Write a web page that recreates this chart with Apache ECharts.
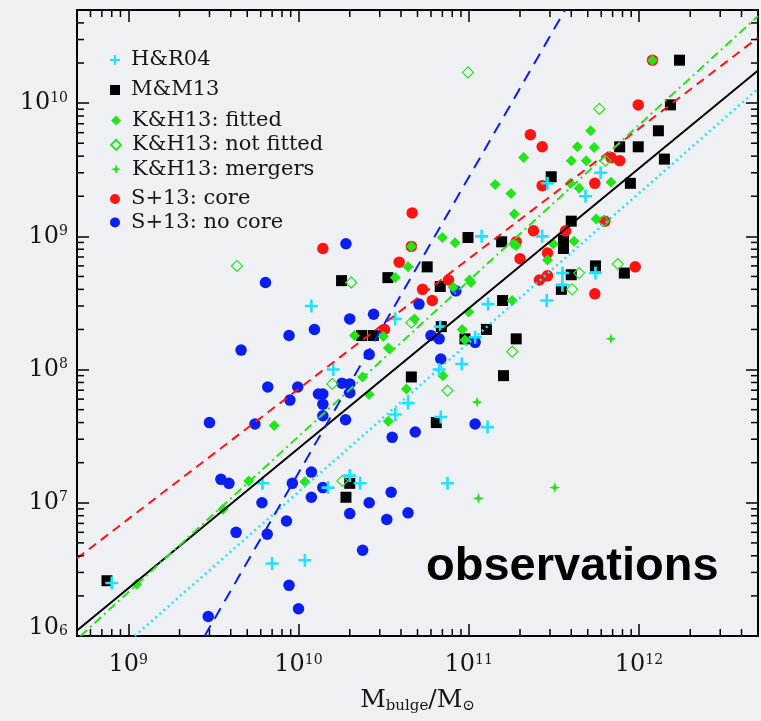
<!DOCTYPE html>
<html><head><meta charset="utf-8">
<script src="https://cdn.jsdelivr.net/npm/echarts@6/dist/echarts.min.js"></script>
<style>html,body{margin:0;padding:0;background:#eff0f4;}#c{width:761px;height:721px;}</style>
</head><body><div id="c"></div><script>
// ---------------- data (M_bulge [Msun], M_BH [Msun]) ----------------
const hr04 = [[2.9e11,2.5e9],[5.95e11,3.0e9],[4.85e11,2.0e9],[1.19e11,1.0e9],[2.7e11,1.0e9],[3.7e10,2.4e8],[6.8e10,2.1e8],[1.3e11,3.1e8],[3.55e11,5.3e8],[3.55e11,4.3e8],[2.87e11,3.3e8],[5.55e11,5.3e8],[1.09e11,1.75e8],[9.1e10,1.1e8],[6.7e10,1.0e8],[4.4e10,5.6e7],[3.7e10,4.6e7],[6.85e10,4.4e7],[1.29e11,3.7e7],[1.19e10,3.0e8],[1.6e10,1.0e8],[2.0e10,1.6e7],[2.3e10,1.4e7],[1.49e10,1.3e7],[7.5e10,1.4e7],[6.15e9,1.4e7],[7.0e9,3.5e6],[1.09e10,3.7e6],[8.0e8,2.5e6]];
const mm13 = [[1.73e12,2.1e10],[1.53e12,9.7e9],[1.3e12,6.2e9],[9.9e11,4.7e9],[7.7e11,4.7e9],[1.41e12,3.8e9],[8.9e11,2.5e9],[3.05e11,2.8e9],[4.0e11,1.3e9],[9.9e10,9.8e8],[1.56e11,9.1e8],[3.6e11,9.4e8],[3.6e11,8.1e8],[5.7e10,5.9e8],[3.35e10,4.9e8],[6.8e10,4.2e8],[1.58e11,3.3e8],[6.9e10,2.1e8],[1.27e11,2.0e8],[1.9e11,1.7e8],[9.5e10,1.7e8],[4.6e10,8.8e7],[1.6e11,9.0e7],[6.45e10,4.0e7],[5.55e11,6.0e8],[4.0e11,5.15e8],[3.5e11,4.0e8],[8.2e11,5.3e8],[1.79e10,4.65e8],[2.35e10,1.8e8],[2.75e10,1.8e8],[2.0e10,1.4e7],[1.9e10,1.1e7],[7.5e8,2.6e6]];
const khFitted = [[5.2e11,6.2e9],[4.35e11,4.7e9],[5.45e11,4.65e9],[2.1e11,3.9e9],[4.0e11,3.7e9],[4.9e11,3.7e9],[1.43e11,2.45e9],[1.77e11,2.1e9],[3.95e11,2.5e9],[4.45e11,2.3e9],[6.85e11,2.55e9],[1.85e11,1.47e9],[5.6e11,1.35e9],[7.0e10,9.8e8],[8.3e10,8.95e8],[4.6e10,8.4e8],[1.83e11,8.75e8],[1.9e11,8.55e8],[3.14e11,8.75e8],[4.15e11,9.2e8],[4.4e10,5.9e8],[3.7e10,4.9e8],[2.9e11,6.65e8],[1.01e11,4.7e8],[1.03e11,4.5e8],[8.1e10,4.15e8],[1.0e11,2.7e8],[9.15e10,2.0e8],[9.5e10,1.67e8],[1.8e11,3.3e8],[4.8e10,2.4e8],[3.37e10,1.45e8],[2.13e10,1.8e8],[3.15e10,1.77e8],[2.38e10,8.8e7],[7.05e10,9.0e7],[4.3e10,7.15e7],[2.6e10,6.5e7],[3.37e10,4.1e7],[7.2e9,3.8e7],[5.1e9,1.46e7],[1.09e10,1.44e7],[3.6e9,8.95e6],[1.12e9,2.45e6],[1.2e12,2.1e10]];
const khNotFitted = [[9.9e10,1.7e10],[5.85e11,9.05e9],[6.35e11,3.7e9],[6.2e11,1.3e9],[4.35e9,6.0e8],[2.04e10,4.5e8],[1.58e10,7.8e7],[4.6e10,2.25e8],[7.5e10,6.95e7],[1.81e10,1.46e7],[4.45e11,5.3e8],[4.05e11,4.0e8],[7.5e11,6.2e8],[1.8e11,1.36e8]];
const khMergers = [[6.85e11,1.7e8],[1.12e11,5.7e7],[1.14e11,1.08e7],[3.2e11,1.3e7]];
const s13Core = [[1.2e12,2.1e10],[9.9e11,9.7e9],[2.3e11,5.8e9],[2.7e11,4.7e9],[6.85e11,3.9e9],[7.7e11,3.7e9],[5.5e11,2.5e9],[2.7e11,2.4e9],[4.65e10,1.5e9],[2.4e11,1.1e9],[3.7e11,1.1e9],[6.3e11,1.3e9],[1.9e11,9.1e8],[4.6e10,8.4e8],[1.39e10,8.1e8],[3.9e10,6.4e8],[5.35e10,4.0e8],[6.1e10,3.3e8],[3.2e10,2.0e8],[7.6e10,4.7e8],[2.0e11,6.8e8],[2.9e11,7.5e8],[2.6e11,4.7e8],[2.9e11,5.05e8],[5.5e11,3.7e8],[9.5e11,5.9e8]];
const s13NoCore = [[1.9e10,8.8e8],[6.4e9,4.5e8],[2.0e10,2.4e8],[2.76e10,2.6e8],[1.24e10,2.0e8],[8.8e9,1.8e8],[4.6e9,1.4e8],[2.6e10,1.3e8],[6.6e9,7.4e7],[9.9e9,7.4e7],[8.9e9,5.9e7],[1.31e10,6.55e7],[1.39e10,6.55e7],[1.39e10,5.5e7],[1.8e10,7.9e7],[2.0e10,7.8e7],[2.0e10,6.7e7],[1.39e10,4.5e7],[1.89e10,4.2e7],[3.0e9,4.0e7],[5.55e9,3.9e7],[5.1e10,3.1e8],[6.0e10,1.8e8],[6.7e10,1.7e8],[6.85e10,1.2e8],[8.4e10,3.9e8],[1.09e11,1.6e8],[3.55e10,3.1e7],[4.85e10,3.4e7],[1.09e11,3.9e7],[1.19e10,1.7e7],[3.5e9,1.5e7],[3.9e9,1.4e7],[9.2e9,1.4e7],[1.39e10,1.3e7],[1.19e10,1.1e7],[3.5e10,1.2e7],[6.1e9,1.0e7],[2.6e10,1.0e7],[2.0e10,8.3e6],[3.3e10,7.5e6],[4.4e10,8.4e6],[8.5e9,7.3e6],[4.3e9,6.0e6],[6.55e9,5.8e6],[2.38e10,4.4e6],[8.8e9,2.4e6],[1.0e10,1.6e6],[2.95e9,1.4e6]];
// fit lines: end points
const fitAll = [[5e8,1.1e6],[5e12,1.76e10]];
const fitCore = [[5e8,3.83e6],[5e12,3.1e10]];
const fitKH = [[5.24e8,1e6],[5e12,4.5e10]];
const fitHR = [[1.09e9,1e6],[5e12,1.28e10]];
const fitNoCore = [[2.81e9,1e6],[3.68e11,5e10]];
// axes
const X_MIN = 5e8, X_MAX = 5e12, Y_MIN = 1e6, Y_MAX = 5e10;
const minorTicksX = [6e8,7e8,8e8,9e8,2e9,3e9,4e9,5e9,6e9,7e9,8e9,9e9,2e10,3e10,4e10,5e10,6e10,7e10,8e10,9e10,2e11,3e11,4e11,5e11,6e11,7e11,8e11,9e11,2e12,3e12,4e12];
const minorTicksY = [2e6,3e6,4e6,5e6,6e6,7e6,8e6,9e6,2e7,3e7,4e7,5e7,6e7,7e7,8e7,9e7,2e8,3e8,4e8,5e8,6e8,7e8,8e8,9e8,2e9,3e9,4e9,5e9,6e9,7e9,8e9,9e9,2e10,3e10,4e10];

// ---------------- style ----------------
const SERIF = '"DejaVu Serif", serif';
const TXT = '#151515';
const C = {cyan:'#1fe2ff', black:'#000000', green:'#25e41c', red:'#ff1414', blue:'#0a1ef2'};
const PLUS = 'path://M4,0H6V4H10V6H6V10H4V6H0V4H4Z';
const STAR = 'path://M5,0L6.3,3.7L10,5L6.3,6.3L5,10L3.7,6.3L0,5L3.7,3.7Z';
const MINOR_LEN = 7, MAJOR_LEN = 12;

function expOf(v){ const l = Math.log10(v); const e = Math.round(l); return Math.abs(l-e) < 1e-6 ? e : null; }
const richLab = {
  b:{fontFamily:SERIF,fontSize:24,lineHeight:24,color:TXT},
  s:{fontFamily:SERIF,fontSize:14,lineHeight:14,verticalAlign:'top',color:TXT},
  b6:{fontFamily:SERIF,fontSize:24,lineHeight:24,color:TXT,padding:[0,0,17,0]},
  s6:{fontFamily:SERIF,fontSize:14,lineHeight:14,verticalAlign:'top',color:TXT}
};
const axisLineStyle = {color:'#000',width:2};
const tickStyle = {color:'#000',width:1.5};

function scatter(name, data, symbol, size, itemStyle, z){
  return {type:'scatter', name, data, symbol, symbolSize:size, itemStyle:Object.assign({opacity:1}, itemStyle), z, emphasis:{disabled:true}, xAxisIndex:0, yAxisIndex:0};
}
function fitLine(data, color, type, width){
  return {type:'line', data, showSymbol:false, symbol:'none', silent:true, z:6, clip:true,
    lineStyle:{color, type, width}, emphasis:{disabled:true}, xAxisIndex:0, yAxisIndex:0};
}
function minorTick(isX){
  return function(params, api){
    const cs = params.coordSys;
    const p = api.coord([api.value(0), api.value(1)]);
    const st = {stroke:'#000', lineWidth:1.5};
    if (isX) {
      const b = cs.y + cs.height, t = cs.y;
      return {type:'group', children:[
        {type:'line', shape:{x1:p[0],y1:b,x2:p[0],y2:b-MINOR_LEN}, style:st},
        {type:'line', shape:{x1:p[0],y1:t,x2:p[0],y2:t+MINOR_LEN}, style:st}]};
    }
    const l = cs.x, r = cs.x + cs.width;
    return {type:'group', children:[
      {type:'line', shape:{x1:l,y1:p[1],x2:l+MINOR_LEN,y2:p[1]}, style:st},
      {type:'line', shape:{x1:r,y1:p[1],x2:r-MINOR_LEN,y2:p[1]}, style:st}]};
  };
}

const legendBase = {orient:'vertical', left:110, padding:0, itemWidth:10, itemHeight:10, itemGap:3.4,
  selectedMode:false, textStyle:{fontFamily:SERIF, fontSize:21, lineHeight:20, color:TXT, padding:[0,0,0,6]}};

const chart = echarts.init(document.getElementById('c'), null, {renderer:'canvas'});
chart.setOption({
  backgroundColor:'#eff0f4',
  animation:false,
  grid:{left:77, top:10, width:689, height:626},
  legend:[
    Object.assign({}, legendBase, {top:49.5, data:['H&R04']}),
    Object.assign({}, legendBase, {top:79.5, data:['M&M13']}),
    Object.assign({}, legendBase, {top:110, data:['K&H13: fitted','K&H13: not fitted','K&H13: mergers']}),
    Object.assign({}, legendBase, {top:188.5, itemGap:2.4, data:['S+13: core','S+13: no core']})
  ],
  xAxis:[
    {type:'log', logBase:10, min:X_MIN, max:X_MAX, position:'bottom',
     axisLine:{show:true, lineStyle:axisLineStyle}, splitLine:{show:false},
     axisTick:{show:true, inside:true, length:MAJOR_LEN, lineStyle:tickStyle},
     axisLabel:{margin:17, formatter:v=>{const e=expOf(v); return e===null?'':'{b|10}{s|'+e+'}';}, rich:richLab},
     name:'{m|M}{sub|bulge}{m|/M}{sub|\u2299}', nameLocation:'middle', nameGap:50,
     nameTextStyle:{rich:{m:{fontFamily:SERIF,fontSize:25,lineHeight:28,color:TXT}, sub:{fontFamily:SERIF,fontSize:15,lineHeight:15,verticalAlign:'bottom',color:TXT}}}},
    {type:'log', logBase:10, min:X_MIN, max:X_MAX, position:'top',
     axisLine:{show:true, lineStyle:axisLineStyle}, splitLine:{show:false},
     axisTick:{show:true, inside:true, length:MAJOR_LEN, lineStyle:tickStyle}, axisLabel:{show:false}}
  ],
  yAxis:[
    {type:'log', logBase:10, min:Y_MIN, max:Y_MAX, position:'left',
     axisLine:{show:true, lineStyle:axisLineStyle}, splitLine:{show:false},
     axisTick:{show:true, inside:true, length:MAJOR_LEN, lineStyle:tickStyle},
     axisLabel:{margin:9, formatter:v=>{const e=expOf(v); if(e===null) return ''; return e===6?'{b6|10}{s6|6}':'{b|10}{s|'+e+'}';}, rich:richLab}},
    {type:'log', logBase:10, min:Y_MIN, max:Y_MAX, position:'right',
     axisLine:{show:true, lineStyle:axisLineStyle}, splitLine:{show:false},
     axisTick:{show:true, inside:true, length:MAJOR_LEN, lineStyle:tickStyle}, axisLabel:{show:false}}
  ],
  graphic:[{type:'text', x:426, y:567, z:10,
    style:{text:'observations', font:'bold 47px "Liberation Sans", Arial, sans-serif', fill:'#000', align:'left', verticalAlign:'middle'}}],
  series:[
    scatter('M&M13', mm13, 'rect', 11, {color:C.black}, 3),
    scatter('S+13: no core', s13NoCore, 'circle', 11.5, {color:C.blue}, 3),
    scatter('S+13: core', s13Core, 'circle', 11.5, {color:C.red}, 3),
    scatter('K&H13: fitted', khFitted, 'diamond', 11, {color:C.green}, 3),
    scatter('K&H13: not fitted', khNotFitted, 'diamond', 11, {color:'rgba(0,0,0,0)', borderColor:C.green, borderWidth:1.2}, 3),
    scatter('K&H13: mergers', khMergers, STAR, 11, {color:C.green}, 3),
    scatter('H&R04', hr04, PLUS, 13, {color:C.cyan}, 3),
    fitLine(fitAll, '#000', 'solid', 2),
    fitLine(fitCore, C.red, [9,6], 2),
    fitLine(fitKH, C.green, [9,4,2,4], 2),
    fitLine(fitHR, C.cyan, [2,3.5], 2.5),
    fitLine(fitNoCore, C.blue, [12,8], 2),
    {type:'custom', silent:true, clip:false, z:7, data:minorTicksX.map(v=>[v,Y_MIN]), renderItem:minorTick(true)},
    {type:'custom', silent:true, clip:false, z:7, data:minorTicksY.map(v=>[X_MIN,v]), renderItem:minorTick(false)}
  ]
});
</script></body></html>
